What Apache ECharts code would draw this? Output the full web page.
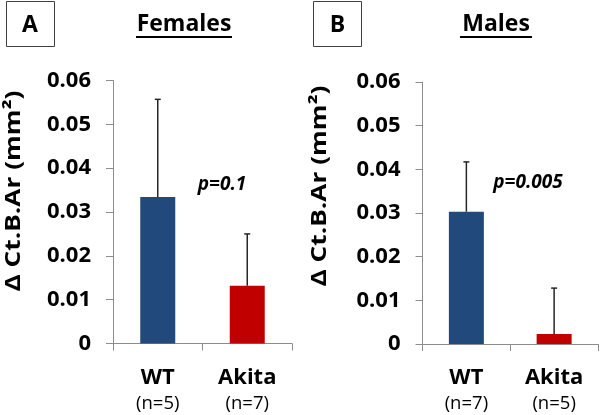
<!DOCTYPE html>
<html><head><meta charset="utf-8">
<script src="https://cdn.jsdelivr.net/npm/echarts@6/dist/echarts.min.js"></script>
<style>html,body{margin:0;padding:0;background:#fff}#c{width:600px;height:415px}</style>
</head><body><div id="c"></div>
<script>
// ---- data ----
const categories = ['WT', 'Akita'];
const femaleN = ['(n=5)', '(n=7)'];
const maleN = ['(n=7)', '(n=5)'];
const femaleMean = [0.0334, 0.0132];
const femaleSD = [0.0223, 0.0118];
const maleMean = [0.0303, 0.0023];
const maleSD = [0.0114, 0.0105];
const yTicks = [0, 0.01, 0.02, 0.03, 0.04, 0.05, 0.06];
const barColors = ['#21497C', '#C00000'];
const panelLabels = ['A', 'B'];
const panelTitles = ['Females', 'Males'];
const pValues = ['p=0.1', 'p=0.005'];
const yName = 'Δ Ct.B.Ar (mm²)';

const FONT = 'Open Sans';
const chart = echarts.init(document.getElementById('c'), null, {renderer: 'canvas'});

function xAxis(gridIndex, nLabels) {
  return {
    type: 'category', gridIndex, data: categories,
    axisLine: {lineStyle: {color: '#8c8c8c', width: 1}},
    axisTick: {show: true, interval: 0, length: 7, alignWithLabel: false, lineStyle: {color: '#8c8c8c'}},
    axisLabel: {
      interval: 0, margin: 21,
      formatter: (v, i) => '{a|' + v + '}\n{b|' + nLabels[i] + '}',
      rich: {
        a: {fontFamily: FONT, fontWeight: 'bold', fontSize: 22, lineHeight: 26, color: '#000'},
        b: {fontFamily: FONT, fontSize: 18.5, lineHeight: 26, color: '#000'}
      }
    }
  };
}
function yAxis(gridIndex) {
  return {
    type: 'value', gridIndex, min: yTicks[0], max: yTicks[yTicks.length - 1], interval: yTicks[1] - yTicks[0],
    splitLine: {show: false},
    axisLine: {show: true, lineStyle: {color: '#8c8c8c', width: 1}},
    axisTick: {show: true, length: 7, lineStyle: {color: '#8c8c8c'}},
    axisLabel: {margin: 22, fontFamily: FONT, fontWeight: 'bold', fontSize: 22, color: '#000',
      formatter: v => (v === 0 ? '0' : v.toFixed(2))}
  };
}
function barSeries(idx, mean) {
  return {
    type: 'bar', xAxisIndex: idx, yAxisIndex: idx, barWidth: 35,
    data: mean.map((v, i) => ({value: v, itemStyle: {color: barColors[i]}})),
    z: 2
  };
}
function errSeries(idx, mean, sd) {
  return {
    type: 'custom', xAxisIndex: idx, yAxisIndex: idx, z: 3,
    data: mean.map((v, i) => [i, v, v + sd[i]]),
    renderItem: function (params, api) {
      const base = api.coord([api.value(0), api.value(1)]);
      const top = api.coord([api.value(0), api.value(2)]);
      const cw = 3;
      const style = {stroke: '#262626', lineWidth: 1.5};
      return {type: 'group', children: [
        {type: 'line', shape: {x1: base[0], y1: base[1], x2: top[0], y2: top[1]}, style},
        {type: 'line', shape: {x1: top[0] - cw, y1: top[1], x2: top[0] + cw, y2: top[1]}, style}
      ]};
    }
  };
}

const panels = [
  {grid: {left: 113, right: 308, top: 80.5, bottom: 71.5}, labelX: 30, boxX: 6, titleX: 184, titleW: 96, nameX: 14, nameY: 191, pX: 222, pY: 185},
  {grid: {left: 422.5, right: 2, top: 82, bottom: 71}, labelX: 337.5, boxX: 313, titleX: 496, titleW: 72, nameX: 320, nameY: 186, pX: 528, pY: 183}
];

const graphic = [];
panels.forEach((p, k) => {
  graphic.push({type: 'rect', shape: {x: p.boxX + 0.5, y: 1.5, width: 48, height: 45}, style: {fill: '#fff', stroke: '#404040', lineWidth: 1}});
  graphic.push({type: 'text', x: p.labelX, y: 25, style: {text: panelLabels[k], font: 'bold 23px "' + FONT + '"', fill: '#000', textAlign: 'center', textVerticalAlign: 'middle'}});
  graphic.push({type: 'text', x: p.titleX, y: 24, style: {text: panelTitles[k], font: 'bold 23px "' + FONT + '"', fill: '#000', textAlign: 'center', textVerticalAlign: 'middle'}});
  graphic.push({type: 'line', shape: {x1: p.titleX - p.titleW / 2, y1: 37, x2: p.titleX + p.titleW / 2, y2: 37}, style: {stroke: '#000', lineWidth: 2}});
  graphic.push({type: 'text', x: p.nameX, y: p.nameY, rotation: Math.PI / 2, scaleX: 1.25, style: {text: yName, font: 'bold 21px "' + FONT + '"', fill: '#000', textAlign: 'center', textVerticalAlign: 'middle'}});
  graphic.push({type: 'text', x: p.pX, y: p.pY, style: {text: pValues[k], font: 'italic bold 19px "' + FONT + '"', fill: '#000', textAlign: 'center', textVerticalAlign: 'middle'}});
});

chart.setOption({
  animation: false,
  backgroundColor: '#fff',
  grid: panels.map(p => p.grid),
  xAxis: [xAxis(0, femaleN), xAxis(1, maleN)],
  yAxis: [yAxis(0), yAxis(1)],
  series: [barSeries(0, femaleMean), errSeries(0, femaleMean, femaleSD), barSeries(1, maleMean), errSeries(1, maleMean, maleSD)],
  graphic
});
</script></body></html>
